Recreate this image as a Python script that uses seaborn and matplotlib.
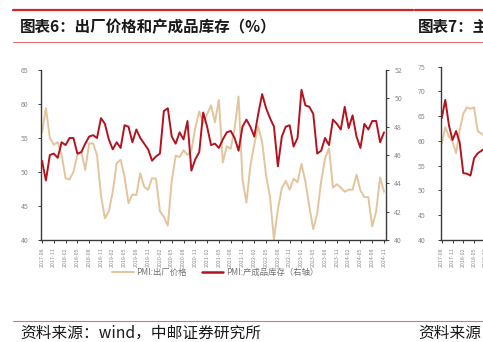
import numpy as np
import pandas as pd
import matplotlib
matplotlib.use("Agg")
import matplotlib.pyplot as plt
import seaborn as sns
from matplotlib.lines import Line2D

# ---------------- data ----------------
months = pd.period_range("2017-08", "2024-11", freq="M").strftime("%Y-%m").tolist()

# PMI: 出厂价格 (left axis)
price = [55.8, 59.4, 55.0, 54.0, 54.4, 52.5, 49.1, 48.9, 50.0, 52.5,
         53.0, 50.3, 54.2, 54.2, 52.5, 46.6, 43.2, 44.2, 47.1, 51.3,
         51.8, 49.3, 45.4, 46.7, 46.6, 49.8, 47.8, 47.4, 49.1, 49.0,
         44.2, 43.4, 42.1, 48.7, 52.4, 52.2, 53.2, 52.5, 53.2, 56.5,
         58.9, 57.2, 58.5, 59.8, 57.3, 60.6, 51.4, 53.8, 53.4, 56.4,
         61.1, 48.9, 45.5, 50.9, 54.1, 56.7, 54.4, 49.5, 46.3, 40.1,
         44.5, 47.6, 48.7, 47.4, 49.0, 48.5, 51.2, 48.6, 44.9, 41.6,
         43.9, 48.6, 52.0, 53.5, 47.7, 48.2, 47.7, 47.1, 47.4, 47.4,
         49.6, 47.3, 46.3, 46.3, 42.0, 44.2, 49.2, 47.1]

# PMI: 产成品库存 (right axis)
inventory = [45.6, 44.2, 46.0, 46.1, 45.8, 46.9, 46.7, 47.2, 47.2, 46.1,
             46.2, 46.8, 47.3, 47.4, 47.2, 48.6, 48.2, 47.1, 46.4, 46.9,
             46.5, 48.1, 48.0, 46.9, 47.8, 47.2, 46.8, 46.4, 45.6, 45.9,
             46.1, 49.1, 49.3, 47.3, 46.8, 47.6, 47.1, 48.4, 44.9, 45.7,
             46.2, 49.0, 48.0, 46.7, 46.8, 46.5, 47.1, 47.6, 47.7, 47.2,
             46.3, 48.0, 48.5, 48.0, 47.3, 48.9, 50.3, 49.3, 48.6, 48.0,
             45.2, 47.3, 48.0, 48.1, 46.6, 47.2, 50.6, 49.5, 49.4, 48.9,
             46.1, 46.3, 47.2, 46.7, 48.5, 48.2, 47.8, 49.4, 47.9, 48.8,
             47.3, 46.5, 48.2, 47.8, 48.4, 48.4, 46.9, 47.6]

# partial neighbouring chart (图表7), only the visible start
months7 = months[:13]
red7 = [64.6, 68.3, 63.2, 60.2, 62.0, 59.7, 53.5, 53.4, 53.0, 56.5, 57.5, 58.0, 58.5]
tan7 = [59.5, 62.8, 60.9, 59.9, 57.5, 62.2, 65.5, 66.8, 66.5, 66.8, 62.0, 61.5, 61.0]

title6 = "图表6：出厂价格和产成品库存（%）"
title7 = "图表7：主"
source = "资料来源：wind，中邮证券研究所"
source7 = "资料来源"
label_price = "PMI:出厂价格"
label_inv = "PMI:产成品库存（右轴）"

# ---------------- style ----------------
sns.set_theme(style="white")
plt.rcParams["font.family"] = ["Noto Sans CJK SC", "DejaVu Sans"]
plt.rcParams["axes.unicode_minus"] = False

RED = "#B3131E"
TAN = "#E2C59C"
GRAY = "#8a8a8a"
SPINE = "#3a3a3a"
W, H = 483, 342

fig = plt.figure(figsize=(4.83, 3.42), dpi=100)

def fx(px):
    return px / W

def fy(py):
    return 1 - py / H

# decorative rules
fig.add_artist(Line2D([fx(13), fx(413)], [fy(10), fy(10)], color="#D2222B", lw=1.6))
fig.add_artist(Line2D([fx(415), fx(483)], [fy(10), fy(10)], color="#D2222B", lw=1.6))
fig.add_artist(Line2D([fx(13), fx(483)], [fy(41.5), fy(41.5)], color="#E07070", lw=0.8))
fig.add_artist(Line2D([fx(13), fx(483)], [fy(320.5), fy(320.5)], color="#E07070", lw=0.8))

fig.text(fx(20), fy(27), title6, fontsize=11.2, fontweight="bold", va="center", ha="left", color="#1a1a1a")
fig.text(fx(418), fy(27), title7, fontsize=11.2, fontweight="bold", va="center", ha="left", color="#1a1a1a")
fig.text(fx(20), fy(333), source, fontsize=11.3, va="center", ha="left", color="#1a1a1a")
fig.text(fx(418), fy(333), source7, fontsize=11.3, va="center", ha="left", color="#1a1a1a")

# ---------------- main chart ----------------
df = pd.DataFrame({"idx": np.arange(len(months)), "month": months,
                   "price": price, "inventory": inventory})

ax = fig.add_axes([fx(41), fy(240), fx(386) - fx(41), fy(70) - fy(240)])
sns.lineplot(data=df, x="idx", y="price", color=TAN, lw=1.4, ax=ax)
ax2 = ax.twinx()
sns.lineplot(data=df, x="idx", y="inventory", color=RED, lw=1.4, ax=ax2)

ax.set_xlim(-0.25, 87.5)
ax.set_ylim(40, 65)
ax2.set_ylim(40, 52)
ax.set_yticks(np.arange(40, 66, 5))
ax2.set_yticks(np.arange(40, 53, 2))
ax.set_xticks(df["idx"][::3])
ax.set_xticklabels(df["month"][::3], rotation=90)
for a in (ax, ax2):
    a.set_xlabel("")
    a.set_ylabel("")
    a.spines["top"].set_visible(False)
ax.spines["right"].set_visible(False)
ax2.spines["left"].set_visible(False)
ax2.spines["bottom"].set_visible(False)
for s in ("left", "bottom"):
    ax.spines[s].set_color(SPINE)
    ax.spines[s].set_linewidth(1.0)
ax2.spines["right"].set_color(SPINE)
ax2.spines["right"].set_linewidth(1.0)

ax.tick_params(axis="y", direction="out", length=2, width=0.7, color=SPINE,
               labelsize=5, labelcolor=GRAY, pad=7, left=True)
ax.tick_params(axis="x", direction="out", length=2.5, width=0.7, color=SPINE,
               labelsize=3.8, labelcolor=GRAY, pad=3, bottom=True)
ax2.tick_params(axis="y", direction="out", length=2, width=0.7, color=SPINE,
                labelsize=5, labelcolor=GRAY, pad=4, right=True)

handles = [Line2D([], [], color=TAN, lw=1.4), Line2D([], [], color=RED, lw=1.8)]
fig.legend(handles, [label_price, label_inv], loc="center",
           bbox_to_anchor=(fx(215), fy(272)), ncol=2, frameon=False,
           fontsize=6.0, handlelength=2.6, columnspacing=1.8, handletextpad=0.3,
           labelcolor="#707070")

# ---------------- partial chart 7 ----------------
df7 = pd.DataFrame({"idx": np.arange(len(months7)), "month": months7,
                    "red": red7, "tan": tan7})
ax7 = fig.add_axes([fx(441), fy(240), 317 / W, fy(66.7) - fy(240)])
sns.lineplot(data=df7, x="idx", y="tan", color=TAN, lw=1.4, ax=ax7)
sns.lineplot(data=df7, x="idx", y="red", color=RED, lw=1.4, ax=ax7)
ax7.set_xlim(-0.2, 88)
ax7.set_ylim(40, 75)
ax7.set_yticks(np.arange(40, 76, 5))
ax7.set_xticks(df7["idx"][::3])
ax7.set_xticklabels(df7["month"][::3], rotation=90)
ax7.set_xlabel("")
ax7.set_ylabel("")
ax7.spines["top"].set_visible(False)
ax7.spines["right"].set_visible(False)
for s in ("left", "bottom"):
    ax7.spines[s].set_color(SPINE)
    ax7.spines[s].set_linewidth(1.0)
ax7.tick_params(axis="y", direction="out", length=2, width=0.7, color=SPINE,
                labelsize=5, labelcolor=GRAY, pad=9, left=True)
ax7.tick_params(axis="x", direction="out", length=2.5, width=0.7, color=SPINE,
                labelsize=3.8, labelcolor=GRAY, pad=3, bottom=True)

fig.savefig("out.png", dpi=100)
